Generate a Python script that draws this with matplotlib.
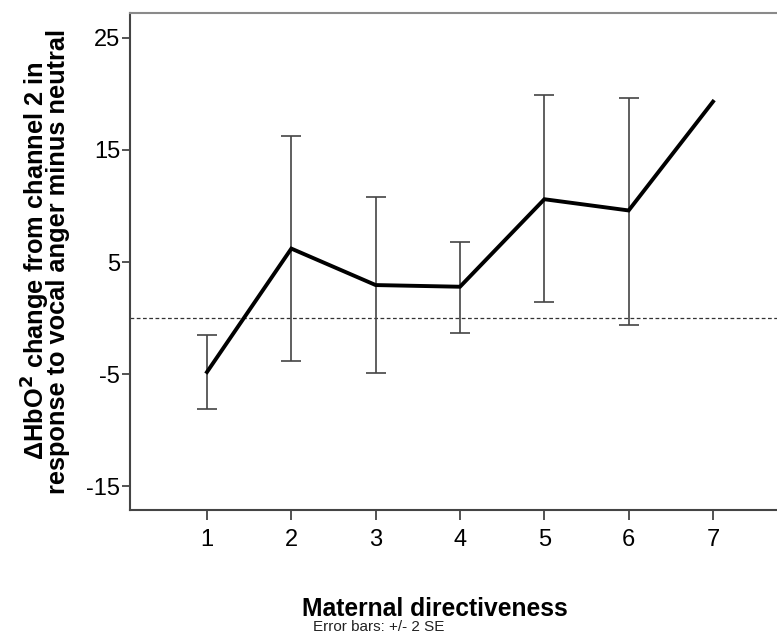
import matplotlib
matplotlib.use("Agg")
import matplotlib.pyplot as plt
import numpy as np

plt.rcParams['font.family'] = ['Liberation Sans', 'DejaVu Sans']

directiveness = [1, 2, 3, 4, 5, 6, 7]
means = [-4.8, 6.2, 2.95, 2.8, 10.6, 9.6, 19.3]
upper = [-1.5, 16.2, 10.8, 6.8, 19.85, 19.6, np.nan]
lower = [-8.1, -3.8, -4.85, -1.35, 1.45, -0.6, np.nan]
yticks = [-15, -5, 5, 15, 25]
xticks = [1, 2, 3, 4, 5, 6, 7]

fig = plt.figure(figsize=(7.77, 6.34), dpi=100)
W, H = 777, 634
left_px, right_px, top_px, bot_px = 130, 790, 13, 510
ax = fig.add_axes([left_px / W, 1 - bot_px / H, (right_px - left_px) / W, (bot_px - top_px) / H])

ax.axhline(0, color='#333333', linestyle=(0, (3, 2)), linewidth=0.9, zorder=1)

# error bars
for x, lo, hi in zip(directiveness, lower, upper):
    if np.isnan(lo):
        continue
    ax.vlines(x, lo, hi, color='#444444', linewidth=1.2, zorder=2)
    ax.hlines([lo, hi], x - 0.12, x + 0.12, color='#444444', linewidth=1.2, zorder=2)

ax.plot(directiveness, means, color='black', linewidth=2.8, solid_joinstyle='miter', zorder=3)

ax.set_xlim(0.087, 7.913)
ax.set_ylim(-17.1, 27.2)
ax.set_xticks(xticks)
ax.set_yticks(yticks)
ax.set_xticklabels([str(v) for v in xticks], fontsize=17)
ax.set_yticklabels([str(v) for v in yticks], fontsize=17)

ax.tick_params(axis='x', length=7, width=1.3, color='#444444', pad=7)
ax.tick_params(axis='y', length=6, width=1.3, color='#444444', pad=1)

for s in ['left', 'bottom']:
    ax.spines[s].set_color('#444444')
    ax.spines[s].set_linewidth(1.5)
ax.spines['top'].set_color('#8a8a8a')
ax.spines['top'].set_linewidth(1.5)
ax.spines['right'].set_visible(False)

fig.text(435 / W, 1 - 609 / H, 'Maternal directiveness', fontsize=17.7, fontweight='bold',
         ha='center', va='center')
fig.text(379 / W, 1 - 627 / H, 'Error bars: +/- 2 SE', fontsize=11, ha='center', va='center',
         color='#222222')
fig.text(45 / W, 1 - 261 / H,
         'ΔHbO$^\\mathbf{2}$ change from channel 2 in\nresponse to vocal anger minus neutral',
         fontsize=18.3, fontweight='bold', rotation=90, ha='center', va='center',
         linespacing=0.7)

fig.savefig('out.png', dpi=100)
